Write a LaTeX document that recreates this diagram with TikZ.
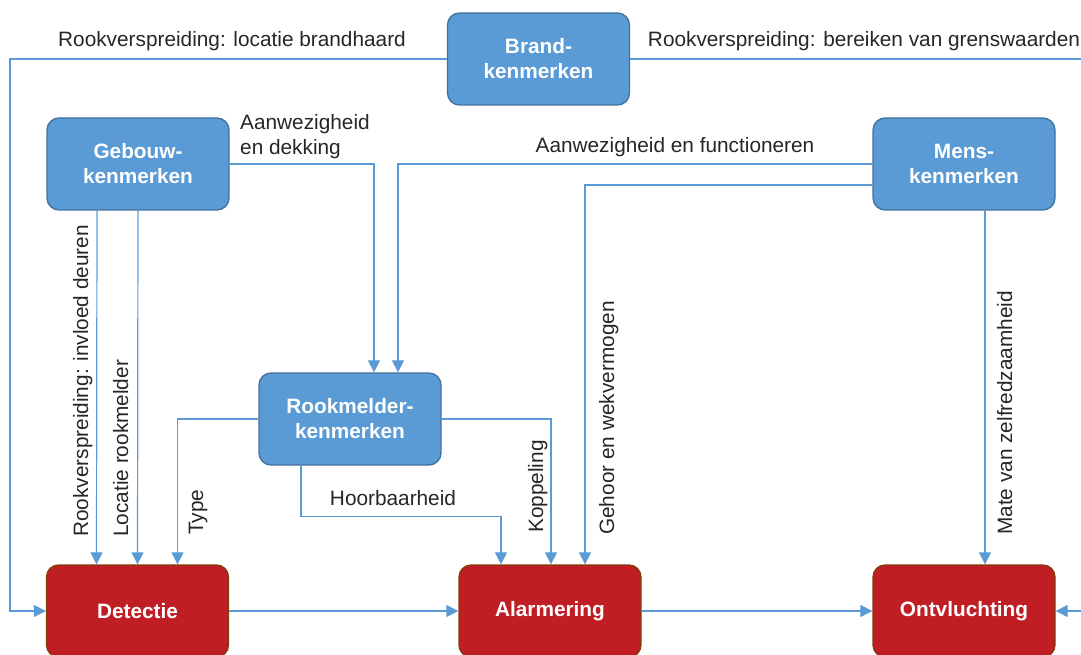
\documentclass[tikz,border=0pt]{standalone}
\usepackage{fontspec}
\setmainfont{Liberation Sans}
\usepackage{xcolor}
\usetikzlibrary{arrows.meta}
\definecolor{kenblue}{HTML}{5B9BD5}
\definecolor{kenrand}{HTML}{41719C}
\definecolor{fasered}{HTML}{BE1E24}
\definecolor{faserand}{HTML}{843C0C}
\definecolor{tekstgrijs}{HTML}{262626}
\begin{document}
\begin{tikzpicture}[x=1pt,y=-1pt,
    kenmerk/.style={draw=kenrand,fill=kenblue,line width=1.3pt,rounded corners=12pt,
      minimum width=182pt,minimum height=92pt,text=white,align=center,
      font=\fontsize{20.8}{25}\selectfont\bfseries},
    fase/.style={kenmerk,draw=faserand,fill=fasered},
    verband/.style={draw=kenblue,line width=1.2pt,-{Triangle[width=12pt,length=12pt]}},
    tekst/.style={text=tekstgrijs,inner sep=0pt,font=\fontsize{20.8}{25}\selectfont}]
  \clip (0,0) rectangle (1081,655);
  \node[kenmerk](brand) at (538.5,59){Brand-\\kenmerken};
  \node[kenmerk](gebouw) at (138,164){Gebouw-\\kenmerken};
  \node[kenmerk](mens) at (964,164){Mens-\\kenmerken};
  \node[kenmerk](rookmelder) at (350,419){Rookmelder-\\kenmerken};
  \node[fase](detectie) at (137.5,611){Detectie};
  \node[fase](alarmering) at (550,611){Alarmering};
  \node[fase](ontvluchting) at (964,611){Ontvluchting};
  \coordinate (links) at (10,59);
  \coordinate (rechts) at (1086,59);

  \draw[verband] (brand.west) -- (links) |- (detectie.west);
  \draw[verband] (brand.east) -- (rechts) |- (ontvluchting.east);
  \draw[verband] (gebouw.east) -| ([xshift=24pt]rookmelder.north);
  \draw[verband] (mens.west) -| ([xshift=48pt]rookmelder.north);
  \draw[verband] ([yshift=-21pt]mens.west) -| ([xshift=35pt]alarmering.north);
  \draw[verband] ([xshift=21pt]mens.south) -- ([xshift=21pt]ontvluchting.north);
  \draw[verband] ([xshift=-41pt]gebouw.south) -- ([xshift=-41pt]detectie.north);
  \draw[verband] (gebouw.south) -- (detectie.north);
  \draw[verband] (rookmelder.west) -| ([xshift=40pt]detectie.north);
  \draw[verband] ([xshift=-49pt]rookmelder.south) -- ++(0,51) -| ([xshift=-49pt]alarmering.north);
  \draw[verband] (rookmelder.east) -| ([xshift=1pt]alarmering.north);
  \draw[verband] (detectie) -- (alarmering);
  \draw[verband] (alarmering) -- (ontvluchting);

  \node[tekst,anchor=base] at (232,47){Rookverspreiding: locatie brandhaard};
  \node[tekst,anchor=base] at (864,47){Rookverspreiding: bereiken van grenswaarden};
  \node[tekst,anchor=base west,align=left] at (240,155){Aanwezigheid\\en dekking};
  \node[tekst,anchor=base] at (675,153){Aanwezigheid en functioneren};
  \node[tekst,anchor=base] at (393,505){Hoorbaarheid};
  \node[tekst,rotate=90,anchor=base west] at (88,537){Rookverspreiding: invloed deuren};
  \node[tekst,rotate=90,anchor=base west] at (128,537){Locatie rookmelder};
  \node[tekst,rotate=90,anchor=base west] at (203,535){Type};
  \node[tekst,rotate=90,anchor=base west] at (543,533){Koppeling};
  \node[tekst,rotate=90,anchor=base west] at (614,535){Gehoor en wekvermogen};
  \node[tekst,rotate=90,anchor=base west] at (1012,535){Mate van zelfredzaamheid};
\end{tikzpicture}
\end{document}
